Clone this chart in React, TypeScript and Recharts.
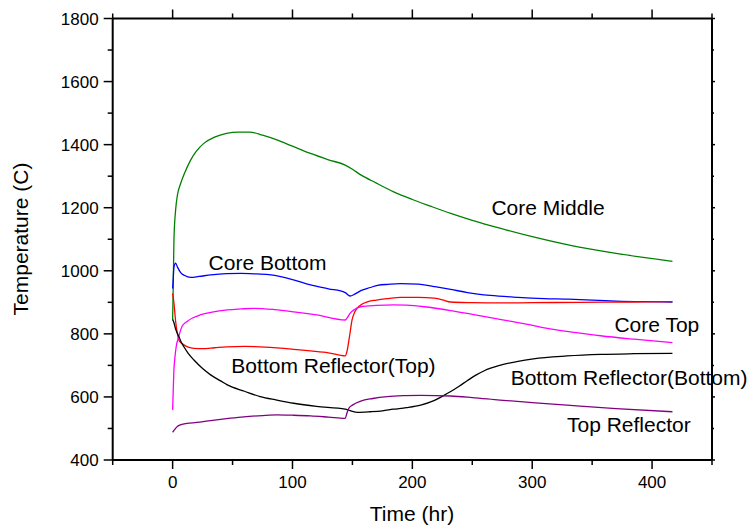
import { LineChart, Line, XAxis, YAxis, ReferenceDot } from "recharts";

const FONT = "'Liberation Sans', Arial, sans-serif";

// Core Middle
const middleT = [0, 0.5, 1.1, 2.5, 4, 6.7, 10, 15, 20, 26, 35, 45, 55, 64, 75, 87, 100, 115, 130, 144, 150, 157, 170, 184, 200, 215, 232, 250, 273, 300, 330, 370, 417];
const middleV = [844, 950, 1098, 1193, 1240, 1277, 1310, 1351, 1380, 1404, 1424, 1436, 1440, 1440, 1430, 1415, 1395, 1372, 1352, 1335, 1322, 1304, 1278, 1251, 1226, 1205, 1182, 1160, 1135, 1108, 1082, 1055, 1030];

// Core Bottom
const bottomT = [0, 0.5, 1, 2.5, 4, 6.7, 10, 15, 22, 32, 45, 57, 70, 82, 100, 115, 130, 144, 148, 152, 157, 165, 171, 180, 190, 205, 218, 232, 246, 265, 288, 310, 330, 350, 370, 395, 417];
const bottomV = [944, 975, 1009, 1024, 1012, 994, 985, 979, 982, 987, 991, 992, 990, 987, 972, 955, 943, 931, 920, 926, 937, 947, 954, 957, 959, 958, 950, 941, 931, 922, 916, 912, 910, 907, 904, 902, 901];

// Bottom Reflector(Top)
const brTopT = [0, 1.1, 2.5, 3.9, 5.3, 7, 9.4, 13, 17.8, 25, 35, 45, 60, 73, 90, 101, 115, 130, 144, 145.5, 147.5, 149.7, 152, 156.7, 163, 170, 180, 190, 205, 218, 225, 232, 250, 273, 300, 340, 380, 417];
const brTopV = [928, 898, 840, 802, 780, 772, 765, 758, 754, 753, 756, 759, 760, 759, 755, 751, 746, 740, 730, 745, 790, 844, 870, 891, 902, 907, 912, 916, 916, 913, 908, 901, 899, 898, 899, 900, 901, 902];

// Core Top
const topT = [0, 0.5, 1, 1.7, 3, 5, 8, 12, 17, 23, 33, 45.6, 57, 68, 85, 101, 120, 144, 146, 148, 152, 157, 170, 184, 195, 210, 232, 250, 273, 295, 315, 335, 357, 385, 417];
const topV = [559, 620, 680, 717, 760, 790, 825, 839, 851, 860, 869, 876, 879, 881, 877, 870, 860, 844, 853, 865, 878, 886, 890, 892, 891, 886, 874, 862, 846, 831, 816, 805, 794, 783, 772];

// Bottom Reflector(Bottom)
const brBotT = [0, 1, 2.5, 3.9, 5.3, 7, 9.4, 13, 17.8, 25, 31.7, 40, 45.6, 60, 73, 87, 101, 120, 144, 154, 165, 175, 184, 195, 207, 218, 226, 232, 239, 246, 253, 260, 273, 287, 301, 329, 357, 385, 417];
const brBotV = [845, 837, 815, 802, 791, 775, 759, 738, 717, 690, 670, 651, 638, 618, 601, 590, 580, 570, 561, 551, 553, 556, 561, 566, 574, 588, 604, 617, 634, 652, 669, 683, 700, 712, 721, 730, 735, 737, 738];

// Top Reflector
const reflT = [0, 2, 3.9, 7, 12, 20, 31.7, 45, 59.4, 75, 87, 100, 115, 130, 144, 145.5, 147, 150, 157, 167, 179, 193, 207, 232, 250, 273, 300, 329, 370, 417];
const reflV = [488, 498, 506, 512, 516, 519, 525, 531, 537, 541, 543, 542, 540, 536, 532, 550, 564, 574, 587, 595, 601, 604, 605, 603, 598, 590, 582, 574, 563, 553];

const xTicks = [-50, 0, 50, 100, 150, 200, 250, 300, 350, 400, 450];
const yTicks = [400, 500, 600, 700, 800, 900, 1000, 1100, 1200, 1300, 1400, 1500, 1600, 1700, 1800];

const series = [
  { name: "Core Middle", t: middleT, v: middleV, color: "#008000" },
  { name: "Core Bottom", t: bottomT, v: bottomV, color: "#0000ff" },
  { name: "Bottom Reflector(Top)", t: brTopT, v: brTopV, color: "#ff0000" },
  { name: "Core Top", t: topT, v: topV, color: "#ff00ff" },
  { name: "Bottom Reflector(Bottom)", t: brBotT, v: brBotV, color: "#000000" },
  { name: "Top Reflector", t: reflT, v: reflV, color: "#800080" },
];

// label anchor (left edge, text middle) in data units
const labels = [
  { text: "Core Middle", t: 266, v: 1199 },
  { text: "Core Bottom", t: 30, v: 1027 },
  { text: "Bottom Reflector(Top)", t: 49, v: 699 },
  { text: "Core Top", t: 368.6, v: 831 },
  { text: "Bottom Reflector(Bottom)", t: 282, v: 662 },
  { text: "Top Reflector", t: 329, v: 514 },
];

const toRows = (t: number[], v: number[]) => t.map((x, i) => ({ t: x, v: v[i] }));

const BottomTick = (props: any) => {
  const { x, y, payload } = props;
  const major = payload.value % 100 === 0;
  return (
    <g>
      <line x1={x} x2={x} y1={y} y2={y + (major ? 9 : 5)} stroke="#000" strokeWidth={1.5} />
      {major && (
        <text x={x} y={y + 28} textAnchor="middle" fontSize={17} fontFamily={FONT} fill="#000">
          {payload.value}
        </text>
      )}
    </g>
  );
};

const TopTick = (props: any) => {
  const { x, y, payload } = props;
  const major = payload.value % 100 === 0;
  return <line x1={x} x2={x} y1={y} y2={y - (major ? 9 : 5)} stroke="#000" strokeWidth={1.5} />;
};

const LeftTick = (props: any) => {
  const { x, y, payload } = props;
  const major = payload.value % 200 === 0;
  return (
    <g>
      <line x1={x} x2={x - (major ? 9 : 5)} y1={y} y2={y} stroke="#000" strokeWidth={1.5} />
      {major && (
        <text x={x - 14} y={y + 6} textAnchor="end" fontSize={17} fontFamily={FONT} fill="#000">
          {payload.value}
        </text>
      )}
    </g>
  );
};

const RightTick = (props: any) => {
  const { x, y, payload } = props;
  const major = payload.value % 200 === 0;
  return <line x1={x} x2={x + (major ? 3 : 2)} y1={y} y2={y} stroke="#000" strokeWidth={1.5} />;
};

export default function App() {
  return (
    <div style={{ position: "absolute", left: 0, top: 0, width: 754, height: 529, background: "#fff" }}>
      <LineChart width={754} height={529} margin={{ top: 8.5, right: 32, bottom: 39, left: 52.7 }}>
        <XAxis
          xAxisId="bottom"
          type="number"
          dataKey="t"
          domain={[-50, 450]}
          ticks={xTicks}
          allowDataOverflow
          orientation="bottom"
          height={30}
          tickLine={false}
          tickSize={0}
          tickMargin={0}
          axisLine={{ stroke: "#000", strokeWidth: 2 }}
          tick={<BottomTick />}
          interval={0}
        />
        <XAxis
          xAxisId="top"
          type="number"
          dataKey="t"
          domain={[-50, 450]}
          ticks={xTicks}
          allowDataOverflow
          orientation="top"
          height={10}
          tickLine={false}
          tickSize={0}
          tickMargin={0}
          axisLine={{ stroke: "#000", strokeWidth: 2 }}
          tick={<TopTick />}
          interval={0}
        />
        <YAxis
          yAxisId="left"
          type="number"
          domain={[400, 1800]}
          ticks={yTicks}
          allowDataOverflow
          orientation="left"
          width={60}
          tickLine={false}
          tickSize={0}
          tickMargin={0}
          axisLine={{ stroke: "#000", strokeWidth: 2 }}
          tick={<LeftTick />}
          interval={0}
        />
        <YAxis
          yAxisId="right"
          type="number"
          domain={[400, 1800]}
          ticks={yTicks}
          allowDataOverflow
          orientation="right"
          width={10}
          tickLine={false}
          tickSize={0}
          tickMargin={0}
          axisLine={{ stroke: "#000", strokeWidth: 2 }}
          tick={<RightTick />}
          interval={0}
        />
        {series.map((s) => (
          <Line
            key={s.name}
            xAxisId="bottom"
            yAxisId="left"
            data={toRows(s.t, s.v)}
            dataKey="v"
            type="monotone"
            stroke={s.color}
            strokeWidth={1.3}
            dot={false}
            activeDot={false}
            isAnimationActive={false}
          />
        ))}
        {labels.map((l) => (
          <ReferenceDot
            key={l.text}
            xAxisId="bottom"
            yAxisId="left"
            x={l.t}
            y={l.v}
            r={0}
            fill="none"
            stroke="none"
            label={{ value: l.text, position: "right", offset: 0, fill: "#000", fontSize: 21, fontFamily: FONT }}
          />
        ))}
        <text x={412} y={521} textAnchor="middle" fontSize={21} fontFamily={FONT} fill="#000">
          Time (hr)
        </text>
        <text
          x={28}
          y={239}
          textAnchor="middle"
          fontSize={21}
          fontFamily={FONT}
          fill="#000"
          transform="rotate(-90 28 239)"
        >
          Temperature (C)
        </text>
      </LineChart>
    </div>
  );
}
